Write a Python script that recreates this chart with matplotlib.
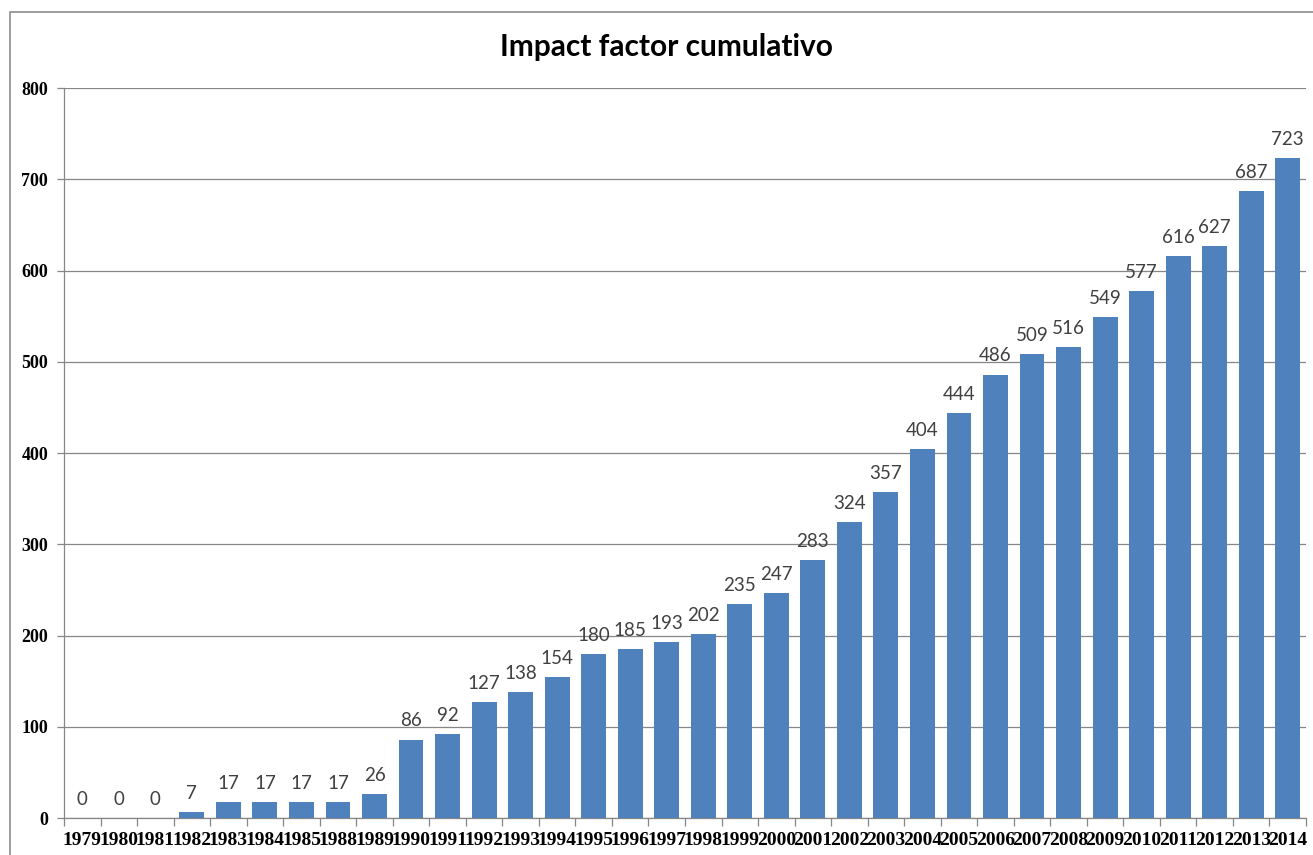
import matplotlib
matplotlib.use('Agg')
import matplotlib.pyplot as plt
from matplotlib.patches import Rectangle
import numpy as np

# cumulative impact factor per year
years = ['1979', '1980', '1981', '1982', '1983', '1984', '1985', '1988', '1989',
         '1990', '1991', '1992', '1993', '1994', '1995', '1996', '1997', '1998',
         '1999', '2000', '2001', '2002', '2003', '2004', '2005', '2006', '2007',
         '2008', '2009', '2010', '2011', '2012', '2013', '2014']
impact = [0, 0, 0, 7, 17, 17, 17, 17, 26,
          86, 92, 127, 138, 154, 180, 185, 193, 202,
          235, 247, 283, 324, 357, 404, 444, 486, 509,
          516, 549, 577, 616, 627, 687, 723]
y_ticks = [0, 100, 200, 300, 400, 500, 600, 700, 800]

BAR_COLOR = '#4F81BD'
GRID_COLOR = '#868686'

fig = plt.figure(figsize=(13.13, 8.55), dpi=100)
fig.patch.set_facecolor('white')

# chart frame
fig.add_artist(Rectangle((10 / 1313, -0.01), 1.02, 1 - 12 / 855 + 0.01,
                         transform=fig.transFigure, fill=False,
                         edgecolor='#8c8c8c', linewidth=1.2))

ax = fig.add_axes([64 / 1313, 37 / 855, (1306 - 64) / 1313, (818 - 88) / 855])

x = np.arange(len(years))
ax.bar(x, impact, width=0.68, color=BAR_COLOR, zorder=3)

for xi, v in zip(x, impact):
    ax.text(xi, v + 11, str(v), ha='center', va='bottom', fontsize=13.5,
            family='Lato', color='#404040', zorder=4)

ax.set_xlim(-0.5, len(years) - 0.5)
ax.set_ylim(0, 800)
ax.set_yticks(y_ticks)
ax.set_yticklabels([str(t) for t in y_ticks], family='Liberation Serif',
                   fontweight='bold', fontsize=13)
ax.yaxis.grid(True, color=GRID_COLOR, linewidth=0.9, zorder=0)

# category labels centred, tick marks on the boundaries
ax.set_xticks(x)
ax.set_xticklabels(years, family='Liberation Serif', fontweight='bold', fontsize=14)
ax.tick_params(axis='x', which='major', length=0, pad=10)
ax.set_xticks(np.arange(len(years) + 1) - 0.5, minor=True)
ax.tick_params(axis='x', which='minor', length=6, color=GRID_COLOR, width=0.9)
ax.tick_params(axis='y', length=5, color=GRID_COLOR, width=0.9, pad=6.5)

for side in ['top', 'right']:
    ax.spines[side].set_visible(False)
for side in ['left', 'bottom']:
    ax.spines[side].set_color(GRID_COLOR)
    ax.spines[side].set_linewidth(0.9)

fig.text(666 / 1313, 1 - 47 / 855, 'Impact factor cumulativo', ha='center', va='center',
         fontsize=21.5, fontweight='bold', family='Lato', color='black')

fig.savefig('out.png', dpi=100)
